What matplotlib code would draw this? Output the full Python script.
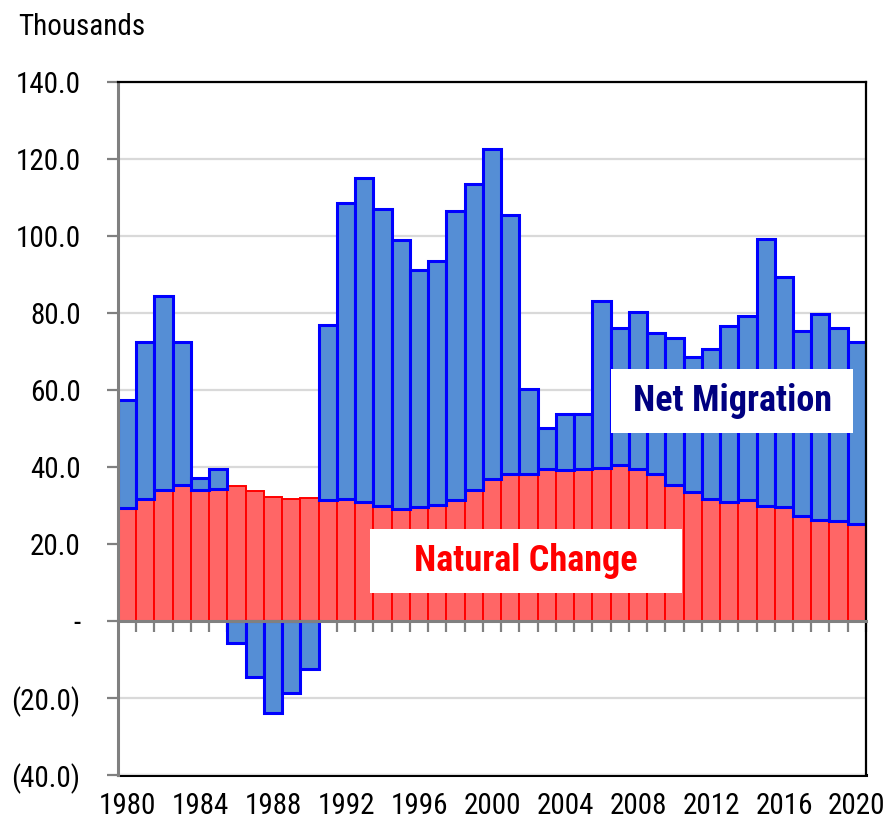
import numpy as np
import matplotlib.pyplot as plt
from matplotlib.ticker import FuncFormatter, FixedLocator
from matplotlib.patches import Rectangle

# data, thousands of people
years = np.arange(1980, 2021)
natural_change = [29.3, 31.7, 34.0, 35.2, 34.0, 34.3, 35.0, 33.8, 32.2, 31.8,
                  32.0, 31.3, 31.8, 30.8, 29.8, 29.0, 29.7, 30.2, 31.3, 34.1,
                  36.8, 38.2, 38.3, 39.6, 39.3, 39.6, 39.8, 40.6, 39.5, 38.3,
                  35.4, 33.5, 31.8, 30.9, 31.3, 30.0, 29.6, 27.3, 26.3, 26.0,
                  25.3]
net_migration = [28.2, 40.7, 50.5, 37.4, 3.2, 5.3, -5.8, -14.5, -24.0, -18.7,
                 -12.6, 45.5, 76.9, 84.3, 77.1, 69.9, 61.5, 63.2, 75.1, 79.3,
                 85.9, 67.3, 21.9, 10.6, 14.4, 14.1, 43.4, 35.5, 40.8, 36.6,
                 38.1, 35.2, 38.9, 45.6, 47.9, 69.2, 59.8, 47.9, 53.4, 50.2,
                 47.2]
label_years = np.arange(1980, 2021, 4)

natural_change = np.array(natural_change)
net_migration = np.array(net_migration)
# negative migration sits below zero, positive stacks on natural change
mig_bottom = np.where(net_migration >= 0, natural_change, 0)

# Arial Narrow look-alike
plt.rcParams['font.family'] = ['Roboto Condensed', 'Archivo Narrow',
                               'Liberation Sans', 'DejaVu Sans']

fig = plt.figure(figsize=(8.96, 8.22), dpi=100)
ax = fig.add_axes([0.1317, 0.0572, 0.8348, 0.843])

ax.bar(years, natural_change, width=1.0, color='#FF6666',
       edgecolor='#FF0000', linewidth=1.4, zorder=1)
ax.bar(years, net_migration, width=1.0, bottom=mig_bottom, color='#558ED5',
       edgecolor='#0000FF', linewidth=2.2, zorder=1)

ax.set_xlim(1979.5, 2020.5)
ax.set_ylim(-40, 140)

# gridlines
ax.set_yticks(np.arange(-40, 141, 20))
ax.yaxis.grid(True, color='#D9D9D9', linewidth=1.6)
ax.set_axisbelow(True)


def fmt(v, pos):
    if abs(v) < 1e-9:
        return '-'
    if v < 0:
        return '({:.1f})'.format(-v)
    return '{:.1f}'.format(v)


ax.yaxis.set_major_formatter(FuncFormatter(fmt))
ax.tick_params(axis='y', direction='out', length=8, width=1.6, color='#808080',
               labelsize=21, pad=19)

# category axis line at zero with ticks between bars
ax.spines['bottom'].set_position(('data', 0))
ax.spines['bottom'].set_color('#808080')
ax.spines['bottom'].set_linewidth(2.2)
ax.xaxis.set_major_locator(FixedLocator(np.arange(1980.5, 2021, 1)))
ax.tick_params(axis='x', direction='out', length=8, width=1.6, color='#808080',
               labelbottom=False)

ax.spines['left'].set_color('#808080')
ax.spines['left'].set_linewidth(2.2)
for side in ['top', 'right']:
    ax.spines[side].set_color('black')
    ax.spines[side].set_linewidth(1.6)

# year labels along the bottom edge
sec = ax.secondary_xaxis('bottom')
sec.set_xticks(label_years)
sec.set_xticklabels([str(y) for y in label_years])
sec.tick_params(length=0, labelsize=21, pad=12)
sec.spines['bottom'].set_color('black')
sec.spines['bottom'].set_linewidth(2.2)

# series labels in white boxes
ax.add_patch(Rectangle((0.6594, 0.4938), 0.3235, 0.0924, transform=ax.transAxes,
                       facecolor='white', edgecolor='none', zorder=3))
ax.text(0.821, 0.540, 'Net Migration', transform=ax.transAxes, ha='center',
        va='center', fontsize=26, fontweight='bold', color='#000080', zorder=4)
ax.add_patch(Rectangle((0.3369, 0.2628), 0.4171, 0.0924, transform=ax.transAxes,
                       facecolor='white', edgecolor='none', zorder=3))
ax.text(0.5455, 0.309, 'Natural Change', transform=ax.transAxes, ha='center',
        va='center', fontsize=26, fontweight='bold', color='#FF0000', zorder=4)

fig.text(18 / 896, 1 - 35 / 822, 'Thousands', ha='left', va='baseline',
         fontsize=21)

fig.savefig('out.png', dpi=100)
